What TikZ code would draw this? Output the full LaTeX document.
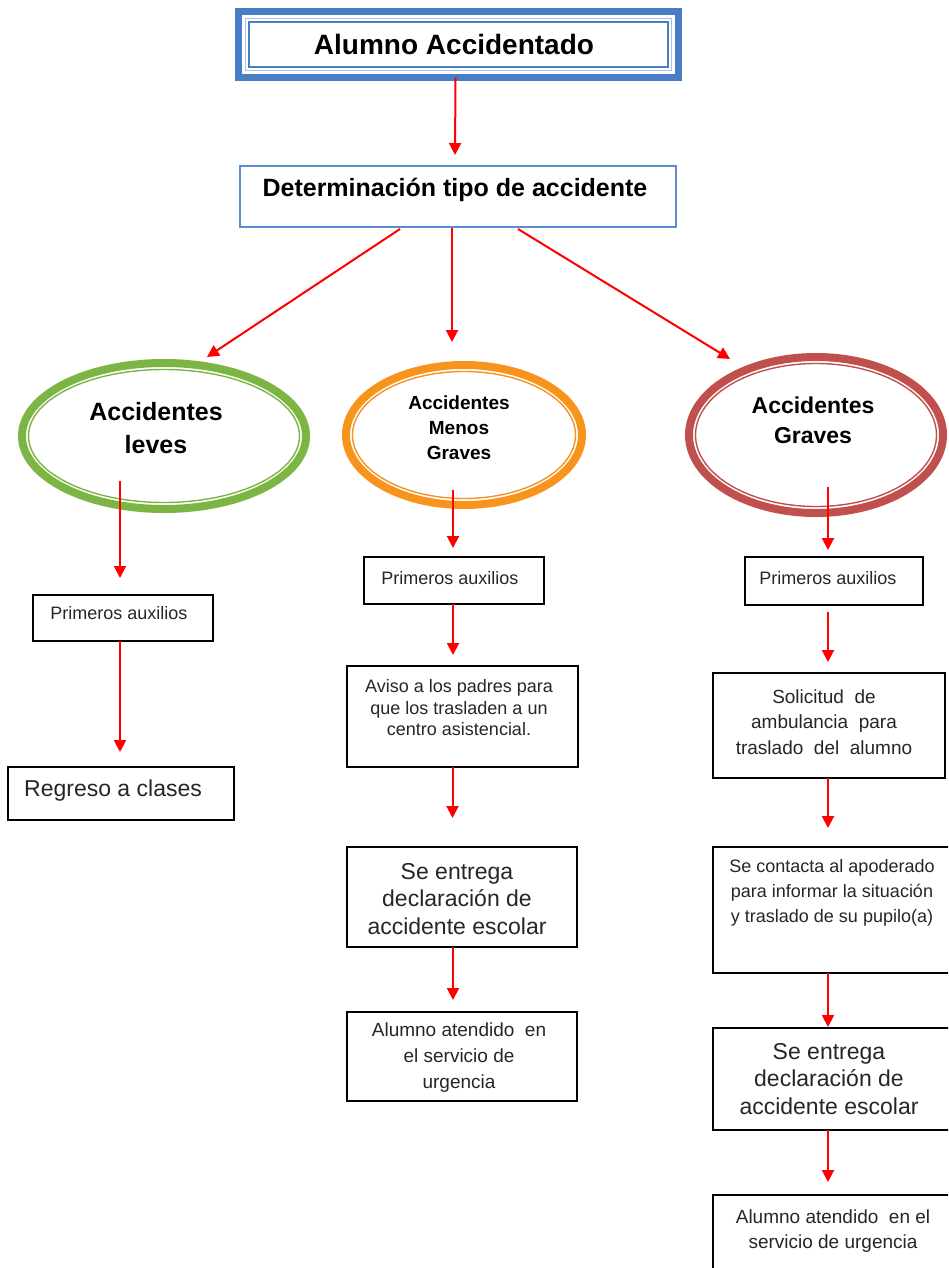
\documentclass[tikz,border=0pt]{standalone}
\usepackage{fontspec}
\setmainfont{Liberation Sans}
\usetikzlibrary{arrows.meta,shapes.geometric,calc}
\definecolor{tblue}{HTML}{4A7EC4}
\definecolor{tlblue}{HTML}{A8C2E6}
\definecolor{dblue}{HTML}{5B8BD0}
\definecolor{lgreen}{HTML}{7DB544}
\definecolor{lorange}{HTML}{F7941D}
\definecolor{lred}{HTML}{C0504D}
\definecolor{arred}{HTML}{FF0000}
\definecolor{txtgray}{HTML}{262626}
\begin{document}
\begin{tikzpicture}[x=1pt,y=-1pt,
  box/.style={draw=black, line width=1.6pt, rectangle, inner sep=0pt, outer sep=0pt},
  arr/.style={draw=arred, line width=2pt, -{Triangle[width=12pt,length=12pt]}},
  ell/.style={ellipse, line width=8pt, inner sep=0pt, outer sep=0pt},
  ellin/.style={ellipse, line width=1.4pt, inner sep=0pt, outer sep=0pt},
  txt/.style={align=center, inner sep=0pt, text=txtgray},
  btxt/.style={align=center, inner sep=0pt, text=black},
]
\clip (0,0) rectangle (948,1268);
\fill[white] (0,0) rectangle (948,1268);

% title
\node[draw=tblue, line width=7pt, minimum width=440pt, minimum height=66pt, inner sep=0pt, outer sep=0pt] (title) at (458.5,44.5) {};
\draw[tlblue, line width=1.5pt] ($(title.north west)+(7,7)$) rectangle ($(title.south east)+(-7,-7)$);
\draw[tblue, line width=1.2pt] ($(title.north west)+(10.5,10.5)$) rectangle ($(title.south east)+(-10.5,-10.5)$);
\node[btxt, font=\fontsize{28}{32}\selectfont\bfseries] (titlet) at (454,44) {Alumno Accidentado};

% determination
\node[draw=dblue, line width=1.5pt, minimum width=436pt, minimum height=61pt, inner sep=0pt, outer sep=0pt] (det) at (458,196.5) {};
\node[btxt, font=\fontsize{25}{30}\selectfont\bfseries] (dett) at (455,190) {Determinación tipo de accidente};

% ellipses
\node[ell, draw=lgreen, minimum width=284pt, minimum height=146pt] (el1) at (164,436) {};
\node[ellin, draw=lgreen, minimum width=271pt, minimum height=133pt] (el1i) at (164,436) {};
\node[btxt, font=\fontsize{25}{33}\selectfont\bfseries] (el1t) at (156,428) {Accidentes\\leves};

\node[ell, draw=lorange, minimum width=236pt, minimum height=140pt] (el2) at (464,435) {};
\node[ellin, draw=lorange, minimum width=223pt, minimum height=127pt] (el2i) at (464,435) {};
\node[btxt, font=\fontsize{19}{25}\selectfont\bfseries] (el2t) at (459,428) {Accidentes\\Menos\\Graves};

\node[ell, draw=lred, minimum width=254pt, minimum height=156pt] (el3) at (816,435) {};
\node[ellin, draw=lred, minimum width=241pt, minimum height=143pt] (el3i) at (816,435) {};
\node[btxt, font=\fontsize{23}{30}\selectfont\bfseries] (el3t) at (813,420) {Accidentes\\Graves};

% left column
\node[box, minimum width=180pt, minimum height=46pt] (p1) at (123,618) {};
\node[txt, font=\fontsize{18}{22}\selectfont] (p1t) at (119,613) {Primeros auxilios};
\node[box, minimum width=226pt, minimum height=53pt] (r1) at (121,793.5) {};
\node[txt, font=\fontsize{23}{28}\selectfont, anchor=west] (r1t) at (24,791) {Regreso a clases};

% middle column
\node[box, minimum width=180pt, minimum height=47pt] (p2) at (454,580.5) {};
\node[txt, font=\fontsize{18}{22}\selectfont] (p2t) at (450,578) {Primeros auxilios};
\node[box, minimum width=231pt, minimum height=101pt] (a2) at (462.5,716.5) {};
\node[txt, font=\fontsize{18}{21.5}\selectfont] (a2t) at (459,708) {Aviso a los padres para\\que los trasladen a un\\centro asistencial.};
\node[box, minimum width=230pt, minimum height=100pt] (s2) at (462,897) {};
\node[txt, font=\fontsize{23}{27.5}\selectfont] (s2t) at (457,899) {Se entrega\\declaración de\\accidente escolar};
\node[box, minimum width=230pt, minimum height=89pt] (u2) at (462,1056.5) {};
\node[txt, font=\fontsize{19}{26}\selectfont] (u2t) at (459,1058) {Alumno atendido\ \ en\\el servicio de\\urgencia};

% right column
\node[box, minimum width=178pt, minimum height=48pt] (p3) at (834,581) {};
\node[txt, font=\fontsize{18}{22}\selectfont] (p3t) at (828,578) {Primeros auxilios};
\node[box, minimum width=232pt, minimum height=105pt] (am3) at (829,725.5) {};
\node[txt, font=\fontsize{19}{25.5}\selectfont] (am3t) at (824,722) {Solicitud\ \ de\\ambulancia\ \ para\\traslado\ \ del\ \ alumno};
\node[box, minimum width=242pt, minimum height=126pt] (c3) at (834,910) {};
\node[txt, font=\fontsize{18}{25}\selectfont] (c3t) at (832,893) {Se contacta al apoderado\\para informar la situación\\y traslado de su pupilo(a)};
\node[box, minimum width=242pt, minimum height=102pt] (s3) at (834,1079) {};
\node[txt, font=\fontsize{23}{27.5}\selectfont] (s3t) at (829,1079) {Se entrega\\declaración de\\accidente escolar};
\node[box, minimum width=242pt, minimum height=110pt] (u3) at (834,1250) {};
\node[txt, font=\fontsize{19}{25}\selectfont] (u3t) at (833,1231) {Alumno atendido\ \ en el\\servicio de urgencia};

% arrows: top
\draw[arr] ($(title.south)+(-3,0)$) -- ($(det.north)+(-3,-11)$);
\draw[arr] ($(det.south)+(-58,2)$) -- ($(el1.north)+(43,-6)$);
\draw[arr] ($(det.south)+(-6,1)$) -- ($(el2.north)+(-12,-23)$);
\draw[arr] ($(det.south)+(60,2)$) -- ($(el3.north)+(-86,2)$);

% left column arrows
\coordinate (e1o) at ($(p1.north)+(-3,-114)$);
\draw[arr, shorten >=17pt] (e1o) -- (e1o |- p1.north);
\coordinate (p1o) at ($(p1.south)+(-3,0)$);
\draw[arr, shorten >=15pt] (p1o) -- (p1o |- r1.north);

% middle column arrows
\coordinate (e2o) at ($(p2.north)+(-1,-67)$);
\draw[arr, shorten >=9pt] (e2o) -- (e2o |- p2.north);
\coordinate (p2o) at ($(p2.south)+(-1,0)$);
\draw[arr, shorten >=11pt] (p2o) -- (p2o |- a2.north);
\coordinate (a2o) at ($(a2.south)+(-10,0)$);
\draw[arr, shorten >=29pt] (a2o) -- (a2o |- s2.north);
\coordinate (s2o) at ($(s2.south)+(-9,0)$);
\draw[arr, shorten >=12pt] (s2o) -- (s2o |- u2.north);

% right column arrows
\coordinate (e3o) at ($(p3.north)+(-6,-70)$);
\draw[arr, shorten >=7pt] (e3o) -- (e3o |- p3.north);
\coordinate (p3o) at ($(p3.south)+(-6,7)$);
\draw[arr, shorten >=11pt] (p3o) -- (p3o |- am3.north);
\coordinate (am3o) at ($(am3.south)+(-1,0)$);
\draw[arr, shorten >=19pt] (am3o) -- (am3o |- c3.north);
\coordinate (c3o) at ($(c3.south)+(-6,0)$);
\draw[arr, shorten >=1pt] (c3o) -- (c3o |- s3.north);
\coordinate (s3o) at ($(s3.south)+(-6,0)$);
\draw[arr, shorten >=13pt] (s3o) -- (s3o |- u3.north);
\end{tikzpicture}
\end{document}
